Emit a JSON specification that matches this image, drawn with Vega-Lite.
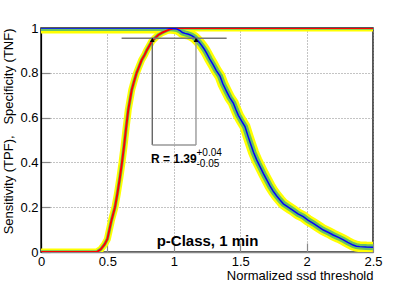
{
  "$schema": "https://vega.github.io/schema/vega-lite/v6.json",
  "width": 332,
  "height": 224,
  "autosize": {"type": "none"},
  "padding": {"left": 41, "top": 28, "right": 42, "bottom": 29},
  "background": "white",
  "config": {
    "font": "Liberation Sans",
    "view": {"stroke": "#222", "strokeWidth": 1.5},
    "axis": {
      "grid": true,
      "gridDash": [1, 2],
      "gridColor": "#888",
      "gridWidth": 1,
      "tickSize": -9,
      "tickColor": "#888",
      "tickWidth": 1.2,
      "labelFontSize": 13,
      "labelColor": "black",
      "labelFlush": false,
      "labelFont": "Liberation Sans",
      "titleFont": "Liberation Sans",
      "titleFontSize": 13,
      "titleFontWeight": "normal",
      "titleColor": "black"
    }
  },
  "datasets": {
    "sens": [
      {"x": 0, "y": 0}, {"x": 0.42, "y": 0}, {"x": 0.45, "y": 0.012}, {"x": 0.48, "y": 0.035},
      {"x": 0.5, "y": 0.058}, {"x": 0.53, "y": 0.14}, {"x": 0.557, "y": 0.2}, {"x": 0.575, "y": 0.26},
      {"x": 0.595, "y": 0.336}, {"x": 0.61, "y": 0.4}, {"x": 0.625, "y": 0.47}, {"x": 0.64, "y": 0.55},
      {"x": 0.657, "y": 0.634}, {"x": 0.683, "y": 0.723}, {"x": 0.7, "y": 0.76}, {"x": 0.72, "y": 0.8},
      {"x": 0.74, "y": 0.83}, {"x": 0.758, "y": 0.857}, {"x": 0.78, "y": 0.88}, {"x": 0.796, "y": 0.9},
      {"x": 0.815, "y": 0.92}, {"x": 0.834, "y": 0.94}, {"x": 0.86, "y": 0.956}, {"x": 0.883, "y": 0.969},
      {"x": 0.915, "y": 0.98}, {"x": 0.946, "y": 0.988}, {"x": 0.97, "y": 0.994}, {"x": 0.996, "y": 0.998},
      {"x": 1.02, "y": 1.0}, {"x": 2.5, "y": 1.0}
    ],
    "spec": [
      {"x": 0, "y": 1}, {"x": 0.95, "y": 1}, {"x": 1.0, "y": 0.998}, {"x": 1.025, "y": 0.995},
      {"x": 1.047, "y": 0.988}, {"x": 1.065, "y": 0.98}, {"x": 1.084, "y": 0.976}, {"x": 1.11, "y": 0.972},
      {"x": 1.135, "y": 0.966}, {"x": 1.155, "y": 0.958}, {"x": 1.172, "y": 0.948}, {"x": 1.19, "y": 0.937},
      {"x": 1.21, "y": 0.922}, {"x": 1.23, "y": 0.905}, {"x": 1.248, "y": 0.887}, {"x": 1.27, "y": 0.862},
      {"x": 1.297, "y": 0.835}, {"x": 1.32, "y": 0.81}, {"x": 1.348, "y": 0.785}, {"x": 1.37, "y": 0.75},
      {"x": 1.398, "y": 0.716}, {"x": 1.42, "y": 0.69}, {"x": 1.448, "y": 0.665}, {"x": 1.468, "y": 0.635},
      {"x": 1.486, "y": 0.61}, {"x": 1.51, "y": 0.585}, {"x": 1.536, "y": 0.56}, {"x": 1.56, "y": 0.515},
      {"x": 1.58, "y": 0.48}, {"x": 1.6, "y": 0.445}, {"x": 1.625, "y": 0.41}, {"x": 1.65, "y": 0.38},
      {"x": 1.675, "y": 0.35}, {"x": 1.7, "y": 0.322}, {"x": 1.724, "y": 0.295}, {"x": 1.75, "y": 0.27},
      {"x": 1.775, "y": 0.25}, {"x": 1.8, "y": 0.232}, {"x": 1.825, "y": 0.215}, {"x": 1.85, "y": 0.205},
      {"x": 1.875, "y": 0.195}, {"x": 1.9, "y": 0.185}, {"x": 1.935, "y": 0.17}, {"x": 1.975, "y": 0.158},
      {"x": 2.01, "y": 0.142}, {"x": 2.05, "y": 0.128}, {"x": 2.09, "y": 0.112}, {"x": 2.126, "y": 0.098},
      {"x": 2.165, "y": 0.087}, {"x": 2.2, "y": 0.076}, {"x": 2.24, "y": 0.065}, {"x": 2.277, "y": 0.054},
      {"x": 2.31, "y": 0.043}, {"x": 2.35, "y": 0.031}, {"x": 2.375, "y": 0.026}, {"x": 2.4, "y": 0.024},
      {"x": 2.45, "y": 0.022}, {"x": 2.5, "y": 0.021}
    ]
  },
  "encoding": {
    "x": {
      "field": "x", "type": "quantitative",
      "scale": {"domain": [0, 2.5], "nice": false, "zero": false},
      "axis": {
        "values": [0, 0.5, 1, 1.5, 2, 2.5],
        "format": "~g",
        "labelPadding": 12,
        "domainColor": "#888",
        "domainWidth": 1.5,
        "title": "Normalized ssd threshold",
        "titleAnchor": "end",
        "titleAlign": "right",
        "titleBaseline": "alphabetic",
        "titleX": 332,
        "titleY": 27
      }
    },
    "y": {
      "field": "y", "type": "quantitative",
      "scale": {"domain": [0, 1], "nice": false, "zero": false},
      "axis": {
        "values": [0, 0.2, 0.4, 0.6, 0.8, 1],
        "format": "~g",
        "labelPadding": 12,
        "domainColor": "black",
        "domainWidth": 1.2,
        "title": "Sensitivity (TPF),\u00a0\u00a0\u00a0Specificity (TNF)",
        "titleAnchor": "end",
        "titleAlign": "right",
        "titleBaseline": "alphabetic",
        "titleAngle": 270,
        "titleX": -29,
        "titleY": 0
      }
    }
  },
  "layer": [
    {"data": {"name": "sens"}, "mark": {"type": "line", "color": "#ffff00", "strokeWidth": 7, "clip": true}},
    {"data": {"name": "spec"}, "mark": {"type": "line", "color": "#ffff00", "strokeWidth": 11, "clip": true}},
    {"data": {"name": "sens"}, "mark": {"type": "line", "color": "#66c266", "strokeWidth": 3.5, "clip": true}},
    {"data": {"name": "spec"}, "mark": {"type": "line", "color": "#66c266", "strokeWidth": 6, "clip": true}},
    {"data": {"name": "sens"}, "mark": {"type": "line", "color": "#ff0000", "strokeWidth": 2, "clip": true}},
    {"data": {"name": "spec"}, "mark": {"type": "line", "color": "#0000ff", "strokeWidth": 1.5, "clip": true}},
    {
      "data": {"values": [{"x": 0.607, "y": 0.954, "x2": 1.398, "y2": 0.954}]},
      "mark": {"type": "rule", "color": "#777", "strokeWidth": 1.6},
      "encoding": {"x2": {"field": "x2"}, "y2": {"field": "y2"}}
    },
    {
      "data": {"values": [{"x": 0.838, "y": 0.946, "x2": 0.838, "y2": 0.478}]},
      "mark": {"type": "rule", "color": "#666", "strokeWidth": 1.4},
      "encoding": {"x2": {"field": "x2"}, "y2": {"field": "y2"}}
    },
    {
      "data": {"values": [
        {"x": 1.167, "y": 0.946, "x2": 1.167, "y2": 0.478},
        {"x": 0.838, "y": 0.478, "x2": 1.167, "y2": 0.478}
      ]},
      "mark": {"type": "rule", "color": "#999", "strokeWidth": 1.4},
      "encoding": {"x2": {"field": "x2"}, "y2": {"field": "y2"}}
    },
    {
      "data": {"values": [{"x": 0.838, "y": 0.947}, {"x": 1.167, "y": 0.947}]},
      "mark": {"type": "point", "shape": "triangle-up", "filled": true, "color": "black", "size": 22, "opacity": 1}
    },
    {
      "data": {"values": [{"x": 0.828, "y": 0.396, "label": "R = 1.39"}]},
      "mark": {"type": "text", "align": "left", "baseline": "alphabetic", "fontSize": 12, "fontWeight": "bold", "color": "black"},
      "encoding": {"text": {"field": "label"}}
    },
    {
      "data": {"values": [{"x": 1.171, "y": 0.44, "label": "+0.04"}, {"x": 1.171, "y": 0.393, "label": "-0.05"}]},
      "mark": {"type": "text", "align": "left", "baseline": "middle", "fontSize": 10, "color": "black"},
      "encoding": {"text": {"field": "label"}}
    },
    {
      "data": {"values": [{"x": 1.254, "y": 0.027, "label": "p-Class, 1 min"}]},
      "mark": {"type": "text", "align": "center", "baseline": "alphabetic", "fontSize": 15, "fontWeight": "bold", "color": "black"},
      "encoding": {"text": {"field": "label"}}
    }
  ]
}
